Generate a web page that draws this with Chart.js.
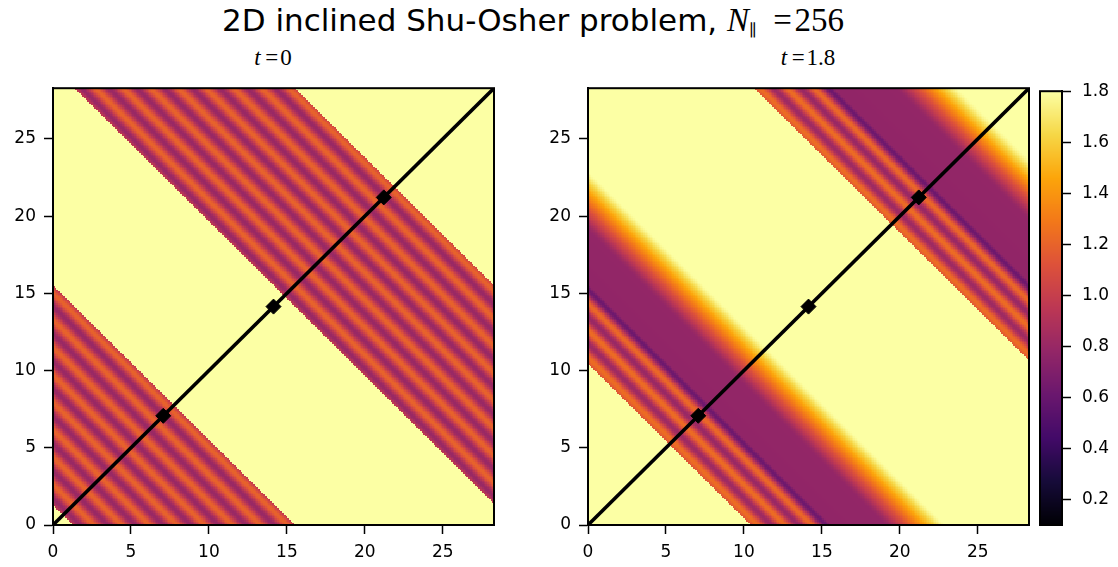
<!DOCTYPE html>
<html>
<head>
<meta charset="utf-8">
<script src="https://cdn.jsdelivr.net/npm/chart.js@4.4.1/dist/chart.umd.min.js"></script>
<style>
  body { margin: 0; background: #fff; }
  #fig { position: relative; width: 1118px; height: 567px; overflow: hidden; background: #fff;
         font-family: "DejaVu Sans", sans-serif; color: #000; }
  #fig canvas { position: absolute; }
  .ttl { position: absolute; white-space: nowrap; text-align: center; line-height: 1; }
  .math { font-family: "Liberation Serif", "DejaVu Serif", serif; }
  .math sub { font-family: "DejaVu Serif", serif; font-size: 0.5em; vertical-align: -0.3em; line-height: 0; }
</style>
</head>
<body>
<div id="fig">
  <div class="ttl" style="left:0; width:1066px; top:4px; font-size:31px;">2D inclined Shu-Osher problem, <span class="math" style="font-size:33px;"><i>N</i><sub>&#8741;</sub>&#8194;=&#8202;256</span></div>
  <div class="ttl math" style="left:173px; width:200px; top:46px; font-size:23px;"><i>t</i>&#8201;=&#8202;0</div>
  <div class="ttl math" style="left:708px; width:200px; top:46px; font-size:23px;"><i>t</i>&#8201;=&#8202;1.8</div>
  <canvas id="left" width="520" height="497" style="left:0; top:70px;"></canvas>
  <canvas id="right" width="520" height="497" style="left:535px; top:70px;"></canvas>
  <canvas id="cbar" width="118" height="497" style="left:1000px; top:70px;"></canvas>
</div>
<script>
// box edge (20*sqrt(2)), colour limits and grid size
const L = 28.284;
const vmin = 0.1;
const vmax = 1.8;
const gridN = 256;

const axisTicks = [0, 5, 10, 15, 20, 25];
const cbarTicks = [0.2, 0.4, 0.6, 0.8, 1.0, 1.2, 1.4, 1.6, 1.8];

// diagonal cut and the three probe points on it
const cutLine = [0, 28.284];
const probes = [7.071, 14.142, 21.213];

// density along the diagonal, s = (x + y) / sqrt(2); knots at the extrema,
// repeated s means a jump
const sT0 = [0, 0.92, 0.92, 1.21, 1.84, 2.47, 3.10, 3.72, 4.35, 4.98, 5.61, 6.24, 6.86,
  7.49, 8.12, 8.75, 9.38, 10.01, 10.63, 10.95, 10.95,
  21.0, 21.0, 21.29, 21.92, 22.55, 23.18, 23.80, 24.43, 25.06, 25.69, 26.32, 26.94,
  27.57, 28.20, 28.83, 29.46, 30.09, 30.71, 31.0, 31.0, 40];
const rhoT0 = [1.8, 1.8, 0.976, 0.8, 1.2, 0.8, 1.2, 0.8, 1.2, 0.8, 1.2, 0.8, 1.2,
  0.8, 1.2, 0.8, 1.2, 0.8, 1.2, 0.99, 1.8,
  1.8, 0.976, 0.8, 1.2, 0.8, 1.2, 0.8, 1.2, 0.8, 1.2, 0.8, 1.2,
  0.8, 1.2, 0.8, 1.2, 0.8, 1.2, 1.02, 1.8, 1.8];

const sT18 = [0, 7.38, 7.38, 7.68, 8.30, 8.92, 9.53, 10.13, 10.80, 11.05, 13.45,
  14.2, 14.9, 15.6, 16.25,
  27.5, 27.5, 27.8, 28.42, 29.04, 29.65, 30.25, 30.92, 31.17, 33.9,
  34.7, 35.4, 36.1, 36.8, 40];
const rhoT18 = [1.8, 1.8, 1.12, 1.24, 0.82, 1.24, 0.80, 1.22, 0.62, 0.77, 0.78,
  1.02, 1.3, 1.58, 1.8,
  1.8, 1.12, 1.24, 0.82, 1.24, 0.80, 1.22, 0.62, 0.77, 0.78,
  1.02, 1.3, 1.58, 1.8, 1.8];

const infernoStops = ['#000004', '#160b39', '#420a68', '#6a176e', '#932667', '#bc3754',
  '#dd513a', '#f37819', '#fca50a', '#f6d746', '#fcffa4'];
const infernoRGB = infernoStops.map(h => [1, 3, 5].map(k => parseInt(h.substr(k, 2), 16)));

function inferno(v) {
  let f = (v - vmin) / (vmax - vmin);
  f = Math.min(1, Math.max(0, f)) * (infernoRGB.length - 1);
  const i = Math.min(Math.floor(f), infernoRGB.length - 2);
  const t = f - i;
  return infernoRGB[i].map((c, k) => Math.round(c + (infernoRGB[i + 1][k] - c) * t));
}

// monotone cubic through the knots, jumps where two knots share s
function makeProfile(xs, ys) {
  const n = xs.length;
  const d = [];
  for (let i = 0; i < n - 1; i++) {
    const h = xs[i + 1] - xs[i];
    d.push(h > 0 ? (ys[i + 1] - ys[i]) / h : null);
  }
  const m = xs.map((_, i) => {
    const a = i > 0 ? d[i - 1] : null;
    const b = i < n - 1 ? d[i] : null;
    if (a === null && b === null) return 0;
    if (a === null) return b;
    if (b === null) return a;
    if (a * b <= 0) return 0;
    return 2 / (1 / a + 1 / b);
  });
  return s => {
    let i = 0;
    while (i < n - 2 && !(s >= xs[i] && s < xs[i + 1])) i++;
    const h = xs[i + 1] - xs[i];
    const t = Math.min(1, Math.max(0, (s - xs[i]) / h));
    const t2 = t * t, t3 = t2 * t;
    return (2 * t3 - 3 * t2 + 1) * ys[i] + (t3 - 2 * t2 + t) * h * m[i]
      + (-2 * t3 + 3 * t2) * ys[i + 1] + (t3 - t2) * h * m[i + 1];
  };
}

function fieldImage(sKnots, rhoKnots) {
  const prof = makeProfile(sKnots, rhoKnots);
  const cv = document.createElement('canvas');
  cv.width = cv.height = gridN;
  const g = cv.getContext('2d');
  const img = g.createImageData(gridN, gridN);
  const h = L / gridN;
  // the field only depends on x + y, so colour each anti-diagonal once
  const diag = [];
  for (let k = 0; k < 2 * gridN - 1; k++) diag.push(inferno(prof((k + 1) * h / Math.SQRT2)));
  for (let r = 0; r < gridN; r++) {
    for (let c = 0; c < gridN; c++) {
      const col = diag[c + (gridN - 1 - r)];
      const p = 4 * (r * gridN + c);
      img.data[p] = col[0];
      img.data[p + 1] = col[1];
      img.data[p + 2] = col[2];
      img.data[p + 3] = 255;
    }
  }
  g.putImageData(img, 0, 0);
  return cv;
}

function framePlugin() {
  return {
    id: 'frame',
    afterDatasetsDraw(chart) {
      const { ctx, chartArea: a } = chart;
      ctx.save();
      ctx.strokeStyle = '#000';
      ctx.lineWidth = 2;
      ctx.strokeRect(a.left, a.top, a.right - a.left, a.bottom - a.top);
      ctx.restore();
    }
  };
}

function fieldPlugin(image) {
  return {
    id: 'field',
    beforeDatasetsDraw(chart) {
      const { ctx, scales: { x, y } } = chart;
      const x0 = x.getPixelForValue(0), x1 = x.getPixelForValue(L);
      const y0 = y.getPixelForValue(L), y1 = y.getPixelForValue(0);
      ctx.save();
      ctx.imageSmoothingEnabled = false;
      ctx.drawImage(image, x0, y0, x1 - x0, y1 - y0);
      ctx.restore();
    }
  };
}

const tickFont = { family: 'DejaVu Sans', size: 17 };

function axis(extra) {
  return Object.assign({
    type: 'linear',
    min: 0,
    max: L,
    afterBuildTicks: s => { s.ticks = axisTicks.map(v => ({ value: v })); },
    grid: { drawOnChartArea: false, drawTicks: true, tickLength: 9, tickWidth: 1.5, tickColor: '#000' },
    border: { display: true, color: '#000', width: 2 },
    ticks: { color: '#000', font: tickFont, autoSkip: false, maxRotation: 0, callback: v => String(v) }
  }, extra);
}

function panel(id, sKnots, rhoKnots) {
  const image = fieldImage(sKnots, rhoKnots);
  const x = axis({ afterFit: s => { s.height = 42; } });
  x.ticks = Object.assign({}, x.ticks, { padding: 8 });
  const y = axis({ afterFit: s => { s.width = 53; } });
  y.ticks = Object.assign({}, y.ticks, { padding: 8 });
  new Chart(document.getElementById(id), {
    type: 'scatter',
    data: {
      datasets: [
        {
          data: cutLine.map(v => ({ x: v, y: v })),
          showLine: true,
          borderColor: '#000',
          borderWidth: 3.6,
          pointRadius: 0
        },
        {
          data: probes.map(v => ({ x: v, y: v })),
          pointStyle: 'rectRot',
          pointRadius: 7.5,
          backgroundColor: '#000',
          borderColor: '#000',
          borderWidth: 1
        }
      ]
    },
    options: {
      responsive: false,
      animation: false,
      events: [],
      layout: { padding: { left: 0, right: 26, top: 14, bottom: 0 } },
      plugins: { legend: { display: false }, tooltip: { enabled: false } },
      scales: { x, y }
    },
    plugins: [fieldPlugin(image), framePlugin()]
  });
}

panel('left', sT0, rhoT0);
panel('right', sT18, rhoT18);

// colour bar
new Chart(document.getElementById('cbar'), {
  type: 'scatter',
  data: { datasets: [{ data: [] }] },
  options: {
    responsive: false,
    animation: false,
    events: [],
    layout: { padding: { left: 40, right: 0, top: 14, bottom: 42 } },
    plugins: { legend: { display: false }, tooltip: { enabled: false } },
    scales: {
      x: { type: 'linear', display: false, min: 0, max: 1 },
      y: {
        type: 'linear',
        position: 'right',
        min: vmin,
        max: vmax,
        afterBuildTicks: s => { s.ticks = cbarTicks.map(v => ({ value: v })); },
        afterFit: s => { s.width = 56; },
        grid: { drawOnChartArea: false, drawTicks: true, tickLength: 9, tickWidth: 1.5, tickColor: '#000' },
        border: { display: true, color: '#000', width: 2 },
        ticks: { color: '#000', font: tickFont, padding: 11, callback: v => v.toFixed(1) }
      }
    }
  },
  plugins: [{
    id: 'ramp',
    beforeDatasetsDraw(chart) {
      const { ctx, chartArea: a, scales: { y } } = chart;
      ctx.save();
      for (let py = Math.floor(a.top); py < Math.ceil(a.bottom); py++) {
        ctx.fillStyle = 'rgb(' + inferno(y.getValueForPixel(py + 0.5)).join(',') + ')';
        ctx.fillRect(a.left, py, a.right - a.left, 1);
      }
      ctx.restore();
    }
  }, framePlugin()]
});
</script>
</body>
</html>
